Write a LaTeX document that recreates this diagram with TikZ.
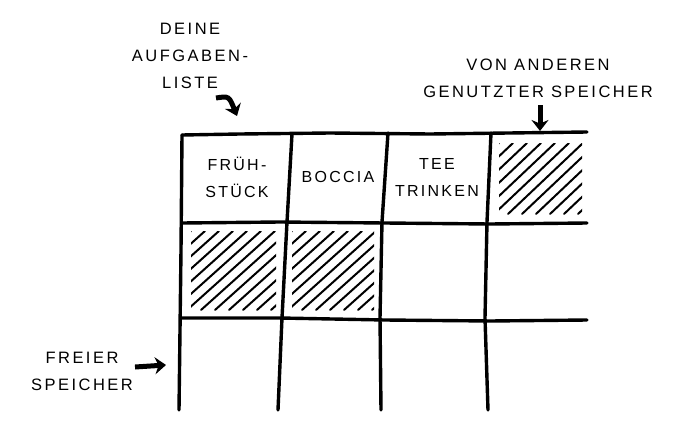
\documentclass[tikz,border=0pt]{standalone}
\usepackage{fontspec}
\setmainfont{Liberation Sans}
\usetikzlibrary{arrows.meta}
\tikzset{
  gridline/.style={line width=3.4pt, line cap=round, line join=round},
  hatch/.style={line width=2pt, line cap=round},
  lbl/.style={align=center, font=\fontsize{16.5}{27}\selectfont\addfontfeature{LetterSpace=15}, inner sep=0pt},
  cell/.style={align=center, font=\fontsize{16}{27}\selectfont\addfontfeature{LetterSpace=14}, inner sep=0pt},
  bigarrow/.style={line width=5pt, -{Stealth[length=11pt,width=17pt]}}
}
\begin{document}
\begin{tikzpicture}[x=1pt,y=-1pt]
\useasboundingbox (0,0) rectangle (693,431);
% hatching
\begin{scope}
  \clip (499,143) rectangle (582,214);
  \foreach \i in {0,14,...,180} {\draw[hatch] (499+\i-75,214) -- (499+\i,143);}
\end{scope}
\begin{scope}
  \clip (191,231) rectangle (276,310);
  \foreach \i in {0,14,...,190} {\draw[hatch] (191+\i-88,310) -- (191+\i,231);}
\end{scope}
\begin{scope}
  \clip (292,231) rectangle (374,310);
  \foreach \i in {0,14,...,190} {\draw[hatch] (292+\i-88,310) -- (292+\i,231);}
\end{scope}
% grid
\draw[gridline] (182,135) -- (240,134) -- (330,133) -- (430,134) -- (587,132);
\draw[gridline] (182,223) -- (280,222) -- (385,223) -- (490,224) -- (587,223);
\draw[gridline] (182,318) -- (280,318) -- (385,320) -- (490,321) -- (587,320);
\draw[gridline] (182,135) -- (181,250) -- (179,410);
\draw[gridline] (292,134) -- (287,222) -- (282,318) -- (278,410);
\draw[gridline] (388,133) -- (382,222) -- (380,318) -- (381,410);
\draw[gridline] (491,133) -- (487,222) -- (485,318) -- (488,410);
% cell texts
\node[cell] (fruh) at (237,177) {FRÜH-\\STÜCK};
\node[cell] (boccia) at (338,177) {BOCCIA};
\node[cell] (tee) at (437,177) {TEE\\TRINKEN};
% labels
\node[lbl] (liste) at (190,56) {DEINE\\AUFGABEN-\\LISTE};
\node[lbl] (andere) at (538,78) {VON ANDEREN\\GENUTZTER SPEICHER};
\node[lbl] (frei) at (82,371) {FREIER\\SPEICHER};
% arrows
\coordinate (a1s) at (216,98);
\coordinate (a1e) at (237,116);
\coordinate (a2s) at (540,105);
\coordinate (a2e) at (540,131);
\coordinate (a3s) at (135,367);
\coordinate (a3e) at (166,365);
\draw[bigarrow] (a1s) .. controls (229,96) .. (a1e);
\draw[bigarrow] (a2s) -- (a2e);
\draw[bigarrow] (a3s) -- (a3e);
\end{tikzpicture}
\end{document}
